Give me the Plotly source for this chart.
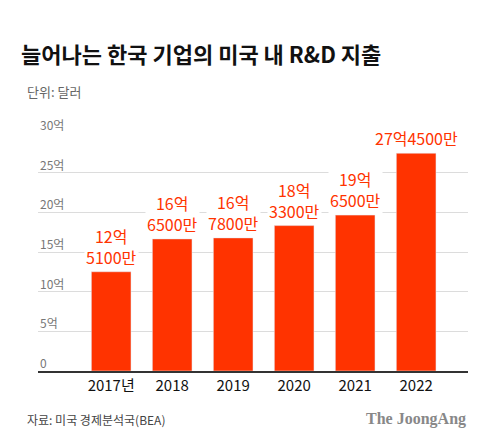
import plotly.graph_objects as go

years = ["2017년", "2018", "2019", "2020", "2021", "2022"]
values = [12.51, 16.65, 16.78, 18.33, 19.65, 27.45]
labels = ["12억<br>5100만", "16억<br>6500만", "16억<br>7800만", "18억<br>3300만", "19억<br>6500만", "27억4500만"]
ticks = [0, 5, 10, 15, 20, 25, 30]
tick_text = ["0", "5억", "10억", "15억", "20억", "25억", "30억"]

RED = "#ff3300"
FONT = "Noto Sans CJK KR"
xs = list(range(len(years)))

fig = go.Figure(go.Bar(x=xs, y=values, marker_color=RED, width=0.65))
fig.update_layout(
    width=480, height=439, margin=dict(l=30, r=20, t=125, b=76, autoexpand=False),
    paper_bgcolor="white", plot_bgcolor="white", showlegend=False,
    font=dict(family=FONT),
    xaxis=dict(range=[-1.2, 5.85], tickvals=xs, ticktext=years, showgrid=False, automargin=False,
               tickfont=dict(size=15, color="#111"), showline=True, linecolor="#333",
               linewidth=1.5, ticks="", zeroline=False),
    yaxis=dict(range=[0, 30], tickvals=ticks, showticklabels=False, gridcolor="#dcdcdc",
               zeroline=False, automargin=False),
)
for t, tt in zip(ticks, tick_text):
    fig.add_annotation(x=0, xref="paper", y=t, yref="y", text=tt, showarrow=False,
                       xanchor="left", yanchor="bottom", yshift=-2, font=dict(size=12, color="#777"))
for x, v, l in zip(xs, values, labels):
    fig.add_annotation(x=x, y=v, text=l, showarrow=False, yanchor="bottom", yshift=1,
                       font=dict(size=16, color=RED), bgcolor="white")
fig.add_annotation(xref="paper", yref="paper", x=-0.045, y=1 + (125-45)/238, text="<b>늘어나는 한국 기업의 미국 내 R&D 지출</b>",
                   showarrow=False, xanchor="left", yanchor="middle", font=dict(size=22, color="#111"))
fig.add_annotation(xref="paper", yref="paper", x=-0.03, y=1 + (125-84)/238, text="단위: 달러",
                   showarrow=False, xanchor="left", yanchor="middle", font=dict(size=13, color="#666"))
fig.add_annotation(xref="paper", yref="paper", x=-0.03, y=-(411-363)/238, text="자료: 미국 경제분석국(BEA)",
                   showarrow=False, xanchor="left", yanchor="middle", font=dict(size=12, color="#444"))
fig.add_annotation(xref="paper", yref="paper", x=1.0, y=-(411-363)/238, text="<b>The JoongAng</b>",
                   showarrow=False, xanchor="right", yanchor="middle",
                   font=dict(size=16, color="#888", family="Liberation Serif"))
fig.write_html("out.html")
